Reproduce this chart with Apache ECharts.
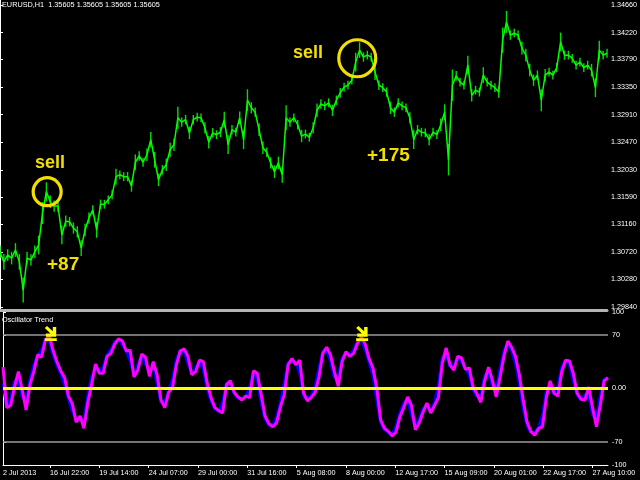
<!DOCTYPE html>
<html><head><meta charset="utf-8">
<script src="https://cdn.jsdelivr.net/npm/echarts@6/dist/echarts.min.js"></script>
<style>html,body{margin:0;padding:0;background:#000;}#c{width:640px;height:480px;}</style>
</head><body><div id="c"></div>
<script>
// one sample every 5 hourly bars
const barStep = 5;
const price = [
1.3072,1.3056,1.3067,1.3062,1.3075,1.3056,1.3011,1.3062,1.3059,1.3072,
1.3083,1.3134,1.3168,1.3152,1.3145,1.3145,1.3099,1.3121,1.3120,1.3110,
1.3104,1.3078,1.3107,1.3126,1.3139,1.3107,1.3148,1.3148,1.3155,1.3163,
1.3192,1.3195,1.3192,1.3192,1.3177,1.3215,1.3225,1.3215,1.3227,1.3251,
1.3219,1.3187,1.3203,1.3211,1.3235,1.3243,1.3286,1.3279,1.3283,1.3262,
1.3283,1.3287,1.3286,1.3270,1.3247,1.3262,1.3259,1.3263,1.3283,1.3243,
1.3267,1.3263,1.3286,1.3251,1.3314,1.3302,1.3295,1.3267,1.3238,1.3231,
1.3214,1.3200,1.3214,1.3195,1.3286,1.3279,1.3286,1.3275,1.3257,1.3260,
1.3255,1.3270,1.3298,1.3308,1.3305,1.3310,1.3298,1.3314,1.3326,1.3335,
1.3338,1.3346,1.3375,1.3394,1.3383,1.3386,1.3383,1.3359,1.3338,1.3334,
1.3327,1.3302,1.3295,1.3310,1.3305,1.3302,1.3286,1.3251,1.3267,1.3263,
1.3262,1.3251,1.3263,1.3259,1.3275,1.3295,1.3219,1.3338,1.3353,1.3343,
1.3338,1.3370,1.3322,1.3330,1.3327,1.3354,1.3343,1.3338,1.3334,1.3327,
1.3410,1.3439,1.3418,1.3421,1.3418,1.3397,1.3386,1.3362,1.3346,1.3354,
1.3314,1.3354,1.3359,1.3354,1.3366,1.3407,1.3386,1.3386,1.3381,1.3370,
1.3375,1.3366,1.3370,1.3362,1.3334,1.3394,1.3386,1.3389
];
// high-low span of the bars around each sample, in pips (0.0001)
const barRange = [
20,25,18,20,22,25,40,20,18,20,
30,35,30,20,18,18,30,18,15,18,
18,25,20,18,15,25,15,14,14,15,
25,14,14,15,18,25,15,14,20,25,
25,20,15,20,22,20,35,15,15,20,
15,14,14,18,20,15,14,16,25,30,
15,14,20,30,35,18,15,20,20,15,
18,20,20,25,40,15,14,15,20,14,
14,18,22,15,14,14,18,15,15,14,
14,14,30,25,15,14,14,25,15,14,
15,20,15,14,14,14,18,30,15,14,
14,18,14,14,20,25,50,50,15,14,
14,30,20,14,14,25,14,14,14,18,
40,35,15,14,15,20,20,20,18,15,
35,20,14,14,15,30,15,14,14,14,
14,14,14,20,30,30,14,14
];
const oscMain = [
28,-25,-22,2,22,-2,-28,5,22,44,41,63,69,50,35,23,14,-10,-20,-44,
-36,-52,-19,5,32,20,20,42,46,58,65,62,49,50,15,24,45,41,16,35,
18,-15,-25,-5,1,31,49,52,42,18,22,37,35,7,-12,-25,-29,-32,5,10,
-5,-11,-15,-10,-12,23,20,-8,-36,-46,-50,-45,-24,-8,31,39,31,37,-6,-16,
-12,-5,15,46,54,44,22,3,35,48,42,46,59,67,58,39,27,1,-41,-52,
-56,-62,-57,-37,-25,-11,-22,-54,-45,-31,-19,-32,-22,-12,33,53,31,24,42,40,
25,27,2,-7,-18,10,28,11,-11,15,42,62,54,42,18,-15,-44,-56,-61,-52,
-50,-12,10,-6,-10,22,37,36,20,-6,-14,-15,2,-25,-50,-22,10,14
];
const oscSignal = [
7,-24,-12,10,12,-12,-15,12,31,43,50,65,61,44,30,19,4,-14,-30,-41,
-42,-39,-9,16,27,20,29,44,51,61,64,57,49,36,19,32,43,31,24,28,
5,-19,-17,-3,13,38,50,48,32,20,28,36,24,-1,-17,-27,-30,-17,7,4,
-7,-13,-13,-11,2,22,9,-19,-40,-48,-48,-37,-18,8,34,36,33,20,-10,-14,
-9,3,27,49,50,35,14,16,40,46,44,51,62,63,50,34,17,-16,-45,-54,
-58,-60,-49,-32,-19,-15,-35,-50,-39,-26,-24,-28,-18,6,41,44,28,31,41,34,
26,17,-2,-11,-7,17,21,2,-1,26,50,59,49,32,5,-27,-49,-58,-57,-51,
-35,-3,4,-8,3,28,37,30,10,-9,-14,-8,-9,-35,-39,-9,12,14
];
const priceTicks = [1.34660,1.34220,1.33790,1.33350,1.32910,1.32470,1.32030,1.31590,1.31160,1.30720,1.30280,1.29840];
const oscTicks = [100,70,0,-70,-100];
const dateTickBars = [0,61,125,189,253,317,381,445,509,573,637,701,765];
const dateTickLabels = ['2 Jul 2013','16 Jul 22:00','19 Jul 14:00','24 Jul 07:00','29 Jul 00:00','31 Jul 16:00','5 Aug 08:00','8 Aug 00:00','12 Aug 17:00','15 Aug 09:00','20 Aug 01:00','22 Aug 17:00','27 Aug 10:00'];
const sellBars = [62, 466];
const sellLevel = [72, 72];
const circleBars = [61, 462];
const circlePrices = [1.3168, 1.3381];
const levels = [70, 0, -70];

const chart = echarts.init(document.getElementById('c'), null, {renderer:'canvas'});
const small = 'Liberation Sans';
const yel = '#f2df00';
const arrowPath = 'path://M0,2 L2,0 L7,5 L7,1 L10,1 L10,10 L1,10 L1,7 L5,7 Z M0,11.5 L10.5,11.5 L10.5,14 L0,14 Z';

chart.setOption({
  backgroundColor:'#000',
  animation:false,
  grid:[
    {left:0, right:32, top:0, height:310},
    {left:0, right:32, top:312, height:153}
  ],
  xAxis:[
    {type:'value', gridIndex:0, min:0, max:785,
     axisLine:{show:true, onZero:false, lineStyle:{color:'#b4b4b4', width:3}},
     axisTick:{show:false}, axisLabel:{show:false}, splitLine:{show:false}},
    {type:'value', gridIndex:1, min:0, max:785,
     axisLine:{show:true, onZero:false, lineStyle:{color:'#ffffff', width:1}},
     axisTick:{show:true, customValues:dateTickBars.slice(1), length:3, lineStyle:{color:'#ffffff'}},
     axisLabel:{customValues:dateTickBars, formatter:v=>dateTickLabels[dateTickBars.indexOf(v)] || '',
       align:'left', color:'#ffffff', fontSize:7.2, fontFamily:small, margin:5},
     splitLine:{show:false}}
  ],
  yAxis:[
    {type:'value', gridIndex:0, position:'right', min:1.29792, max:1.34740,
     axisLine:{show:true, lineStyle:{color:'#ffffff'}},
     axisTick:{show:true, customValues:priceTicks, length:3, lineStyle:{color:'#ffffff'}},
     axisLabel:{customValues:priceTicks, formatter:v=>v.toFixed(5), color:'#ffffff', fontSize:7.2, fontFamily:small, margin:4},
     splitLine:{show:false}},
    {type:'value', gridIndex:1, position:'right', min:-100, max:100,
     axisLine:{show:true, lineStyle:{color:'#ffffff'}},
     axisTick:{show:true, customValues:oscTicks, length:3, lineStyle:{color:'#ffffff'}},
     axisLabel:{customValues:oscTicks, formatter:v=>v===0?'0.00':String(v), color:'#ffffff', fontSize:7.2, fontFamily:small, margin:4},
     splitLine:{show:false}}
  ],
  series:[
    {type:'custom', xAxisIndex:0, yAxisIndex:0, z:2,
     data:price.map((p,i)=>[i*barStep, p, barRange[i]]),
     encode:{x:0, y:1},
     renderItem:(params, api)=>{
       const x = api.value(0), c = api.value(1), r = api.value(2)*0.0001;
       const p1 = api.coord([x, c + r/2]);
       const p2 = api.coord([x, c - r/2]);
       return {type:'line', shape:{x1:p1[0], y1:p1[1], x2:p2[0], y2:p2[1]},
               style:{stroke:'#00e000', lineWidth:1.4}};
     }},
    {type:'line', xAxisIndex:0, yAxisIndex:0, showSymbol:false, symbol:'none', z:3,
     data:price.map((p,i)=>[i*barStep,p]), lineStyle:{color:'#00ff00', width:1.5}},
    {type:'scatter', xAxisIndex:0, yAxisIndex:0, z:5,
     data:circleBars.map((b,k)=>[b,circlePrices[k]]),
     symbolSize:(v,p)=>p.dataIndex===0?28:37,
     itemStyle:{color:'rgba(0,0,0,0)', borderColor:yel, borderWidth:3.2, opacity:1}},
    {type:'line', xAxisIndex:1, yAxisIndex:1, showSymbol:false, symbol:'none',
     data:oscSignal.map((v,i)=>[i*barStep,v]), lineStyle:{color:'#0000ff', width:3}},
    {type:'line', xAxisIndex:1, yAxisIndex:1, showSymbol:false, symbol:'none',
     data:oscMain.map((v,i)=>[i*barStep,v]), lineStyle:{color:'#ff00ff', width:3},
     markLine:{silent:true, symbol:['none','none'], label:{show:false}, animation:false,
       data:levels.map(l=>({yAxis:l, lineStyle:l===0?{color:'#ffff00', width:3, type:'solid'}:{color:'#9a9a9a', width:1.6, type:'solid'}}))}},
    {type:'scatter', xAxisIndex:1, yAxisIndex:1, z:10, symbol:arrowPath, symbolSize:[12,15],
     data:sellBars.map((b,k)=>[b,sellLevel[k]]), itemStyle:{color:'#ffff00', opacity:1}}
  ],
  graphic:[
    {type:'text', x:2, y:1, style:{text:'EURUSD,H1  1.35605 1.35605 1.35605 1.35605', fill:'#ffffff', font:'7.3px "Liberation Sans"', verticalAlign:'top'}},
    {type:'text', x:2, y:316, style:{text:'Oscillator Trend', fill:'#ffffff', font:'7.3px "Liberation Sans"', verticalAlign:'top'}},
    {type:'text', x:35, y:154, style:{text:'sell', fill:yel, font:'bold 18px "Liberation Sans"', verticalAlign:'top'}},
    {type:'text', x:47, y:255, style:{text:'+87', fill:yel, font:'bold 19px "Liberation Sans"', verticalAlign:'top'}},
    {type:'text', x:293, y:44, style:{text:'sell', fill:yel, font:'bold 18px "Liberation Sans"', verticalAlign:'top'}},
    {type:'text', x:367, y:146, style:{text:'+175', fill:yel, font:'bold 19px "Liberation Sans"', verticalAlign:'top'}}
  ]
});
</script></body></html>
